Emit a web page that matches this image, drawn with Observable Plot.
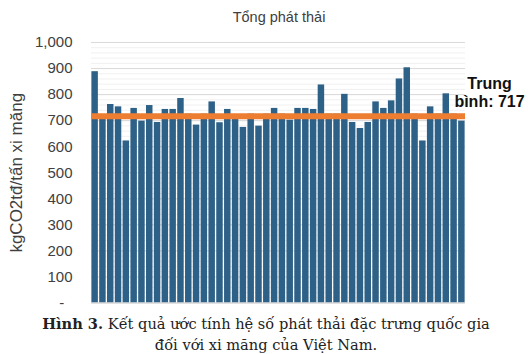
<!DOCTYPE html>
<html>
<head>
<meta charset="utf-8">
<script src="https://cdn.jsdelivr.net/npm/d3@7"></script>
<script src="https://cdn.jsdelivr.net/npm/@observablehq/plot@0.6"></script>
<style>
  html, body { margin: 0; padding: 0; background: #fff; }
  #wrap { position: relative; width: 529px; height: 354px; overflow: hidden; }
  #title { position: absolute; top: 9px; left: 0; width: 558px; text-align: center;
           font: 14.5px "Liberation Sans", Arial, sans-serif; color: #404040; }
  #chart { position: absolute; top: 0; left: 0; }
  #caption { position: absolute; top: 313px; left: 0; width: 532px; text-align: center;
             font: 14.6px "DejaVu Serif", serif; color: #222; line-height: 21px; }
</style>
</head>
<body>
<div id="wrap">
  <div id="chart"></div>
  <div id="title">Tổng phát thải</div>
  <div id="caption"><b>Hình 3.</b> Kết quả ước tính hệ số phát thải đặc trưng quốc gia<br>đối với xi măng của Việt Nam.</div>
</div>
<script>
// Emission factors (kgCO2tđ / tấn xi măng), one per plant
const plants = d3.range(1, 49);
const emissions = [
  888, 711, 762, 753, 622, 747, 698, 758, 693, 743,
  743, 785, 725, 683, 725, 772, 692, 743, 711, 674,
  725, 679, 725, 747, 725, 702, 747, 747, 743, 837,
  725, 725, 801, 693, 670, 693, 772, 747, 776, 860,
  903, 725, 622, 753, 725, 803, 725, 698
];
const average = 717;
const averageLabel = "Trung\nbình: 717";
const yTicks = [0, 100, 200, 300, 400, 500, 600, 700, 800, 900, 1000];
const yMinorTicks = d3.range(0, 1001, 20);
const yLabel = "kgCO2tđ/tấn xi măng";

const data = plants.map((p, i) => ({plant: p, value: emissions[i]}));
const fmt = d3.format(",");

const chart = Plot.plot({
  width: 529,
  height: 310,
  marginTop: 42,
  marginBottom: 7.5,
  marginLeft: 91,
  marginRight: 64,
  style: {fontFamily: "'Liberation Sans', Arial, sans-serif", background: "transparent", overflow: "visible"},
  x: {type: "band", domain: plants, paddingInner: 0.17, paddingOuter: 0.05, axis: null},
  y: {domain: [0, 1000]},
  marks: [
    Plot.ruleY(yMinorTicks, {stroke: "#f0f0f0", strokeWidth: 1}),
    Plot.ruleY(yTicks, {stroke: "#d9d9d9", strokeWidth: 1}),
    Plot.barY(data, {x: "plant", y: "value", fill: "#2e6187"}),
    Plot.ruleY([0], {stroke: "#d9d9d9"}),
    Plot.ruleY([average], {stroke: "#ed7d31", strokeWidth: 6}),
    Plot.text([averageLabel], {
      frameAnchor: "right", y: () => average, text: d => d,
      dx: 24, dy: -24, textAnchor: "middle", lineAnchor: "middle",
      fontSize: 16, fontWeight: "bold", fill: "#111", lineHeight: 1.15
    }),
    Plot.axisY(yTicks, {
      tickSize: 0, tickPadding: 19, fontSize: 15, fill: "#404040",
      tickFormat: d => d === 0 ? "-  " : fmt(d),
      label: yLabel, labelAnchor: "center", labelArrow: "none", labelOffset: 82
    })
  ]
});
document.getElementById("chart").appendChild(chart);
// style y axis label
chart.querySelectorAll("g[aria-label='y-axis label'] text").forEach(t => {
  t.setAttribute("font-size", "17");
  t.setAttribute("fill", "#404040");
});
</script>
</body>
</html>
